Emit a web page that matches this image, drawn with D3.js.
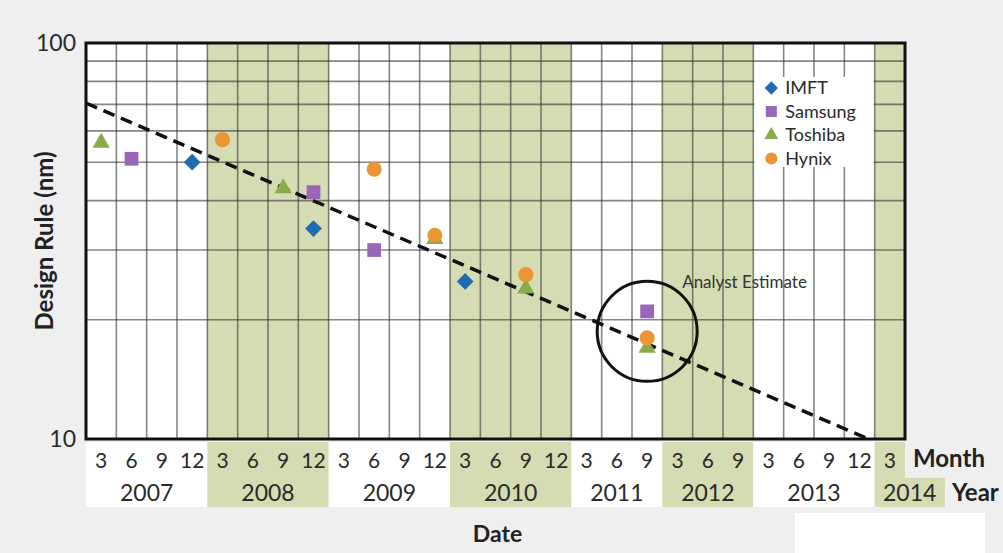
<!DOCTYPE html>
<html>
<head>
<meta charset="utf-8">
<script src="https://cdn.jsdelivr.net/npm/d3@7"></script>
<style>
  body { margin: 0; background: #efefef; }
  svg { display: block; font-family: Lato, "Noto Sans", sans-serif; }
</style>
</head>
<body>
<svg width="1003" height="553"></svg>
<script>
// Columns: quarter-end months for each year (2011 and 2012 have no "12" column)
const years = ["2007", "2008", "2009", "2010", "2011", "2012", "2013", "2014"];
const yearMonths = [[3, 6, 9, 12], [3, 6, 9, 12], [3, 6, 9, 12], [3, 6, 9, 12], [3, 6, 9], [3, 6, 9], [3, 6, 9, 12], [3]];
const shadedYears = ["2008", "2010", "2012", "2014"];
const yTickLabels = [10, 100];

// Design rule (nm) per maker, placed by year and month column
const imft = [
    { year: "2007", month: 12, value: 50 },
    { year: "2008", month: 12, value: 34 },
    { year: "2010", month: 3, value: 25 }
];
const samsung = [
    { year: "2007", month: 6, value: 51 },
    { year: "2008", month: 12, value: 42 },
    { year: "2009", month: 6, value: 30 },
    { year: "2011", month: 9, value: 21 }
];
const toshiba = [
    { year: "2007", month: 3, value: 56 },
    { year: "2008", month: 9, value: 43 },
    { year: "2009", month: 12, value: 32 },
    { year: "2010", month: 9, value: 24 },
    { year: "2011", month: 9, value: 17 }
];
const hynix = [
    { year: "2008", month: 3, value: 57 },
    { year: "2009", month: 6, value: 48 },
    { year: "2009", month: 12, value: 32.7 },
    { year: "2010", month: 9, value: 26 },
    { year: "2011", month: 9, value: 18 }
];

// Dashed trend: position in columns from the left edge, value in nm
const trend = [{ pos: 0, value: 70.5 }, { pos: 25.8, value: 10 }];
const estimate = { year: "2011", month: 9, value: 18.7, label: "Analyst Estimate" };

const series = [
    { name: "IMFT", data: imft, color: "#1f6db0", shape: "diamond" },
    { name: "Samsung", data: samsung, color: "#9966b8", shape: "square" },
    { name: "Toshiba", data: toshiba, color: "#8aab4c", shape: "triangle" },
    { name: "Hynix", data: hynix, color: "#ec9535", shape: "circle" }
];
const drawOrder = ["Toshiba", "Samsung", "IMFT", "Hynix"];

const svg = d3.select("svg");
const margin = { top: 43, right: 98, bottom: 114, left: 86 };
const width = 1003, height = 553;
const x0 = margin.left, x1 = width - margin.right;
const y0 = margin.top, y1 = height - margin.bottom;

const green = "#d5dbb2";
const gridColor = "rgba(50,55,50,0.6)";
const textColor = "#2a2a2a";

const cols = [];
years.forEach((yr, i) => yearMonths[i].forEach(m => cols.push(yr + "-" + m)));
const key = d => d.year + "-" + d.month;

const x = d3.scaleBand().domain(cols).range([x0, x1]).paddingInner(0).paddingOuter(0);
const xPos = d3.scaleLinear().domain([0, cols.length]).range([x0, x1]);
const y = d3.scaleLog().domain([10, 100]).range([y1, y0]);

// Plot background
svg.append("rect").attr("x", x0).attr("y", y0).attr("width", x1 - x0).attr("height", y1 - y0).attr("fill", "#fff");

// Year spans
const yearSpan = years.map((yr, i) => {
    const first = x(yr + "-" + yearMonths[i][0]);
    const last = x(yr + "-" + yearMonths[i][yearMonths[i].length - 1]) + x.bandwidth();
    return { year: yr, x0: first, x1: last, months: yearMonths[i] };
});

svg.append("g").selectAll("rect")
    .data(yearSpan.filter(d => shadedYears.includes(d.year)))
    .join("rect")
    .attr("x", d => d.x0).attr("y", y0)
    .attr("width", d => d.x1 - d.x0).attr("height", y1 - y0)
    .attr("fill", green);

// Axis band under the plot (month + year rows)
const bandTop = y1 + 3, bandBottom = y1 + 68;
svg.append("g").selectAll("rect")
    .data(yearSpan)
    .join("rect")
    .attr("x", d => d.x0)
    .attr("y", bandTop)
    .attr("width", (d, i) => (i === yearSpan.length - 1 ? d.x1 - d.x0 + 40 : d.x1 - d.x0))
    .attr("height", bandBottom - bandTop)
    .attr("fill", d => shadedYears.includes(d.year) ? green : "#fff");
// the last year's month cell is only as wide as the column
const lastSpan = yearSpan[yearSpan.length - 1];
svg.append("rect")
    .attr("x", lastSpan.x1).attr("y", bandTop)
    .attr("width", 40).attr("height", 36)
    .attr("fill", "#efefef");

// Grid
const grid = svg.append("g").attr("stroke", gridColor).attr("stroke-width", 1.6);
grid.selectAll(".v")
    .data(cols.slice(1))
    .join("line")
    .attr("x1", d => x(d)).attr("x2", d => x(d))
    .attr("y1", y0).attr("y2", y1);
grid.selectAll(".h")
    .data(y.ticks().filter(t => t > 10 && t < 100))
    .join("line")
    .attr("x1", x0).attr("x2", x1)
    .attr("y1", d => y(d)).attr("y2", d => y(d));

// Legend box
const legendX = x("2013-3");
svg.append("rect")
    .attr("x", legendX + 1).attr("y", 77)
    .attr("width", x.bandwidth() * 4 - 2).attr("height", 90)
    .attr("fill", "#fff");

// Frame
svg.append("rect")
    .attr("x", x0).attr("y", y0).attr("width", x1 - x0).attr("height", y1 - y0)
    .attr("fill", "none").attr("stroke", "#111").attr("stroke-width", 3);

// Trend line
const line = d3.line().x(d => xPos(d.pos)).y(d => y(d.value));
svg.append("path")
    .datum(trend)
    .attr("d", line)
    .attr("fill", "none")
    .attr("stroke", "#111")
    .attr("stroke-width", 3.5)
    .attr("stroke-dasharray", "12,7");

// Markers
function symbolPath(shape) {
    if (shape === "diamond") return d3.symbol(d3.symbolSquare, 140)();
    if (shape === "square") return d3.symbol(d3.symbolSquare, 190)();
    if (shape === "triangle") return d3.symbol(d3.symbolTriangle, 130)();
    return d3.symbol(d3.symbolCircle, 180)();
}
function rot(shape) { return shape === "diamond" ? " rotate(45)" : ""; }

drawOrder.forEach(name => {
    const s = series.find(d => d.name === name);
    svg.append("g").selectAll("path")
        .data(s.data)
        .join("path")
        .attr("d", symbolPath(s.shape))
        .attr("transform", d => `translate(${x(key(d)) + x.bandwidth() / 2},${y(d.value)})${rot(s.shape)}`)
        .attr("fill", s.color);
});

// Analyst estimate circle
const ex = x(key(estimate)) + x.bandwidth() / 2;
svg.append("circle")
    .attr("cx", ex).attr("cy", y(estimate.value)).attr("r", 50)
    .attr("fill", "none").attr("stroke", "#111").attr("stroke-width", 3);
svg.append("text")
    .attr("x", ex + 35).attr("y", y(estimate.value) - 43)
    .attr("font-size", 17).attr("fill", "#333")
    .text(estimate.label);

// Legend
const legend = svg.append("g").attr("transform", `translate(${legendX + 18},88)`);
series.forEach((s, i) => {
    const g = legend.append("g").attr("transform", `translate(0,${i * 23.5})`);
    g.append("path").attr("d", symbolPath(s.shape)).attr("fill", s.color)
        .attr("transform", "scale(0.8)" + rot(s.shape));
    g.append("text").attr("x", 14).attr("dy", "0.35em")
        .attr("font-size", 18).attr("fill", textColor).text(s.name);
});

// Y tick labels
svg.append("g").selectAll("text")
    .data(yTickLabels)
    .join("text")
    .attr("x", x0 - 10).attr("y", d => y(d))
    .attr("dy", "0.35em").attr("text-anchor", "end")
    .attr("font-size", 23).attr("fill", textColor)
    .text(d => d);

// Month labels
svg.append("g").selectAll("text")
    .data(cols)
    .join("text")
    .attr("x", d => x(d) + x.bandwidth() / 2).attr("y", y1 + 22)
    .attr("dy", "0.35em").attr("text-anchor", "middle")
    .attr("font-size", 21).attr("fill", textColor)
    .text(d => d.split("-")[1]);

// Year labels
svg.append("g").selectAll("text")
    .data(yearSpan)
    .join("text")
    .attr("x", (d, i) => i === yearSpan.length - 1 ? d.x0 + 35 : (d.x0 + d.x1) / 2)
    .attr("y", y1 + 54)
    .attr("dy", "0.35em").attr("text-anchor", "middle")
    .attr("font-size", 23).attr("fill", textColor)
    .text(d => d.year);

svg.append("text").attr("x", x1 + 8).attr("y", y1 + 20).attr("dy", "0.35em")
    .attr("font-size", 24).attr("font-weight", "bold").attr("fill", "#222").text("Month");
svg.append("text").attr("x", x1 + 47).attr("y", y1 + 54).attr("dy", "0.35em")
    .attr("font-size", 24).attr("font-weight", "bold").attr("fill", "#222").text("Year");

// Axis titles
svg.append("text")
    .attr("x", (x0 + x1) / 2 + 2).attr("y", 534).attr("dy", "0.35em")
    .attr("text-anchor", "middle").attr("font-size", 23).attr("font-weight", "bold").attr("fill", "#222")
    .text("Date");
svg.append("text")
    .attr("transform", `translate(45,${(y0 + y1) / 2}) rotate(-90)`)
    .attr("text-anchor", "middle").attr("dy", "0.35em")
    .attr("font-size", 24).attr("font-weight", "bold").attr("fill", "#222")
    .text("Design Rule (nm)");

// white patch bottom right
svg.append("rect").attr("x", 795).attr("y", 513).attr("width", 190).attr("height", 40).attr("fill", "#fff");
</script>
</body>
</html>
